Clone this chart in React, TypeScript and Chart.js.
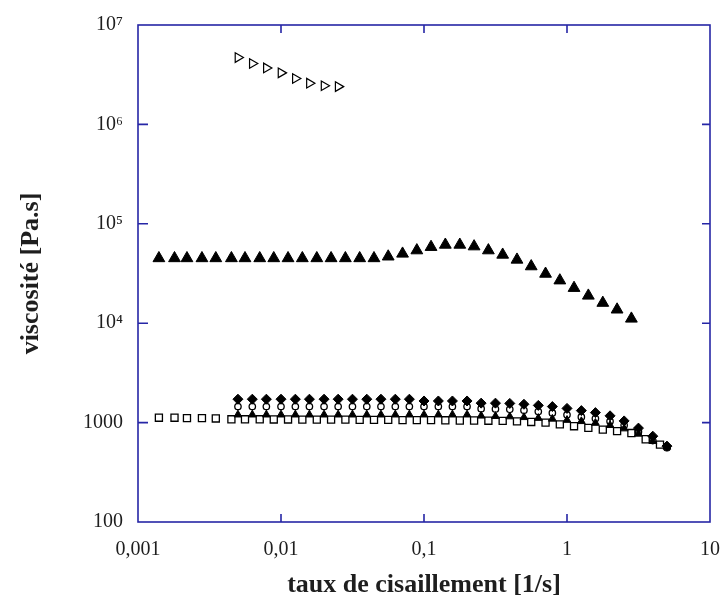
import React, { useEffect, useRef } from 'react';
import { Chart, registerables } from 'chart.js';

Chart.register(...registerables);

// ---- axis ticks ----
const xTickValues = [0.001, 0.01, 0.1, 1, 10];
const xTickLabels = ['0,001', '0,01', '0,1', '1', '10'];
const yTickValues = [100, 1000, 1e4, 1e5, 1e6, 1e7];
const yTickLabels = ['100', '1000', '10⁴', '10⁵', '10⁶', '10⁷'];

const xTitle = 'taux de cisaillement [1/s]';
const yTitle = 'viscosité [Pa.s]';

// ---- open right-pointing triangles ----
const openTriX = [0.005, 0.0063, 0.0079, 0.01, 0.0126, 0.0158, 0.02, 0.0251];
const openTriY = [4.7e6, 4.1e6, 3.7e6, 3.3e6, 2.9e6, 2.6e6, 2.45e6, 2.4e6];

// ---- filled large triangles ----
const bigTriX = [0.0014, 0.0018, 0.0022, 0.0028, 0.0035, 0.0045, 0.0056, 0.0071, 0.0089, 0.0112,
  0.0141, 0.0178, 0.0224, 0.0282, 0.0355, 0.0447, 0.0562, 0.0708, 0.0891, 0.112,
  0.141, 0.178, 0.224, 0.282, 0.355, 0.447, 0.562, 0.708, 0.891, 1.12,
  1.41, 1.78, 2.24, 2.82];
const bigTriY = [45000, 45000, 45000, 45000, 45000, 45000, 45000, 45000, 45000, 45000,
  45000, 45000, 45000, 45000, 45000, 45000, 46800, 50000, 54000, 58400,
  61500, 61500, 59200, 54000, 48800, 43500, 37300, 31400, 26900, 22600,
  18900, 16000, 13700, 11100];

// ---- open squares ----
const squareX = [0.0014, 0.0018, 0.0022, 0.0028, 0.0035, 0.0045, 0.0056, 0.0071, 0.0089, 0.0112,
  0.0141, 0.0178, 0.0224, 0.0282, 0.0355, 0.0447, 0.0562, 0.0708, 0.0891, 0.112,
  0.141, 0.178, 0.224, 0.282, 0.355, 0.447, 0.562, 0.708, 0.891, 1.12,
  1.41, 1.78, 2.24, 2.82, 3.55, 4.47];
const squareY = [1120, 1120, 1110, 1110, 1100, 1080, 1080, 1080, 1075, 1075,
  1070, 1070, 1070, 1070, 1065, 1065, 1065, 1060, 1060, 1060,
  1055, 1050, 1050, 1045, 1040, 1030, 1015, 1000, 960, 920,
  885, 850, 820, 785, 680, 600];

// ---- group measured from 0.005 to 5 ----
const groupX = [0.005, 0.0063, 0.0079, 0.01, 0.0126, 0.0158, 0.02, 0.0251, 0.0316, 0.0398,
  0.05, 0.063, 0.079, 0.1, 0.126, 0.158, 0.2, 0.251, 0.316, 0.398,
  0.5, 0.63, 0.79, 1.0, 1.26, 1.58, 2.0, 2.51, 3.16, 3.98, 5.0];
const diamondY = [1720, 1720, 1720, 1720, 1720, 1720, 1720, 1720, 1720, 1720,
  1720, 1720, 1720, 1650, 1650, 1650, 1650, 1570, 1570, 1560,
  1530, 1490, 1450, 1390, 1320, 1260, 1170, 1040, 880, 730, 580];
const circleY = [1450, 1450, 1450, 1450, 1450, 1450, 1450, 1450, 1450, 1450,
  1450, 1450, 1450, 1450, 1450, 1450, 1450, 1380, 1370, 1360,
  1330, 1290, 1250, 1200, 1140, 1100, 1030, 940, 810, 660, 560];
const smallTriY = [1200, 1200, 1200, 1200, 1200, 1200, 1200, 1200, 1200, 1200,
  1200, 1200, 1200, 1200, 1200, 1200, 1200, 1170, 1160, 1150,
  1130, 1110, 1090, 1060, 1030, 990, 940, 870, 770, 650, 570];

const FRAME = '#2626a6';
const TEXT = '#1e1e1e';
const SERIF = '"Liberation Serif", "DejaVu Serif", serif';

const pts = (xs: number[], ys: number[]) => xs.map((x, i) => ({ x, y: ys[i] }));

export default function App() {
  const ref = useRef<HTMLCanvasElement>(null);

  useEffect(() => {
    document.body.style.margin = '0';
    document.body.style.background = '#ffffff';
    const canvas = ref.current;
    if (!canvas) return;

    const framePlugin = {
      id: 'frame',
      afterDraw(chart: any) {
        const { ctx, chartArea } = chart;
        const { left, right, top, bottom } = chartArea;
        const xs = chart.scales.x;
        const ys = chart.scales.y;
        ctx.save();
        ctx.strokeStyle = FRAME;
        ctx.lineWidth = 1.6;
        ctx.strokeRect(left, top, right - left, bottom - top);
        ctx.beginPath();
        xTickValues.slice(1, -1).forEach((v) => {
          const px = xs.getPixelForValue(v);
          ctx.moveTo(px, bottom);
          ctx.lineTo(px, bottom - 8);
          ctx.moveTo(px, top);
          ctx.lineTo(px, top + 8);
        });
        yTickValues.slice(1, -1).forEach((v) => {
          const py = ys.getPixelForValue(v);
          ctx.moveTo(left, py);
          ctx.lineTo(left + 10, py);
          ctx.moveTo(right, py);
          ctx.lineTo(right - 8, py);
        });
        ctx.stroke();
        ctx.restore();
      },
    };

    const common = { showLine: false, borderColor: '#000', borderWidth: 1 };

    const chart = new Chart(canvas, {
      type: 'scatter',
      data: {
        datasets: [
          { ...common, label: 'small triangles', data: pts(groupX, smallTriY), pointStyle: 'triangle', pointRadius: 4.5, backgroundColor: '#000' },
          { ...common, label: 'diamonds', data: pts(groupX, diamondY), pointStyle: 'rectRot', pointRadius: 5, backgroundColor: '#000' },
          { ...common, label: 'circles', data: pts(groupX, circleY), pointStyle: 'circle', pointRadius: 3.2, backgroundColor: '#fff', borderWidth: 1.3 },
          { ...common, label: 'squares', data: pts(squareX, squareY), pointStyle: 'rect', pointRadius: 5, backgroundColor: '#fff', borderWidth: 1.3 },
          { ...common, label: 'big triangles', data: pts(bigTriX, bigTriY), pointStyle: 'triangle', pointRadius: 6.8, backgroundColor: '#000' },
          { ...common, label: 'open triangles', data: pts(openTriX, openTriY), pointStyle: 'triangle', rotation: 90, pointRadius: 5.5, backgroundColor: '#fff', borderWidth: 1.2 },
        ] as any,
      },
      options: {
        responsive: false,
        maintainAspectRatio: false,
        devicePixelRatio: 1,
        animation: false,
        layout: { padding: { top: 25, right: 10, left: 0, bottom: 0 } },
        plugins: { legend: { display: false }, tooltip: { enabled: false } },
        scales: {
          x: {
            type: 'logarithmic',
            position: 'bottom',
            min: 0.001,
            max: 10,
            border: { display: false },
            grid: { display: false, drawTicks: false },
            ticks: {
              padding: 16,
              autoSkip: false,
              maxRotation: 0,
              color: TEXT,
              font: { family: SERIF, size: 20 },
              callback: (_v: any, i: number) => xTickLabels[i],
            },
            afterBuildTicks: (s: any) => {
              s.ticks = xTickValues.map((v) => ({ value: v }));
            },
            afterFit: (s: any) => {
              s.height = 83;
              s.paddingLeft = 0;
              s.paddingRight = 0;
            },
            title: {
              display: true,
              text: xTitle,
              color: TEXT,
              font: { family: SERIF, size: 26, weight: 'bold' },
              padding: { top: 0, bottom: 4 },
            },
          },
          y: {
            type: 'logarithmic',
            position: 'left',
            min: 100,
            max: 1e7,
            border: { display: false },
            grid: { display: false, drawTicks: false },
            ticks: {
              padding: 15,
              autoSkip: false,
              color: TEXT,
              font: { family: SERIF, size: 20 },
              callback: (_v: any, i: number) => yTickLabels[i],
            },
            afterBuildTicks: (s: any) => {
              s.ticks = yTickValues.map((v) => ({ value: v }));
            },
            afterFit: (s: any) => {
              s.width = 138;
              s.paddingTop = 0;
              s.paddingBottom = 0;
            },
            title: {
              display: true,
              text: yTitle,
              color: TEXT,
              font: { family: SERIF, size: 26, weight: 'bold' },
              padding: { top: 16, bottom: 0 },
            },
          },
        },
      } as any,
      plugins: [framePlugin],
    });

    return () => chart.destroy();
  }, []);

  return (
    <div style={{ width: 720, height: 605, background: '#fff' }}>
      <canvas ref={ref} width={720} height={605} style={{ display: 'block', width: 720, height: 605 }} />
    </div>
  );
}
